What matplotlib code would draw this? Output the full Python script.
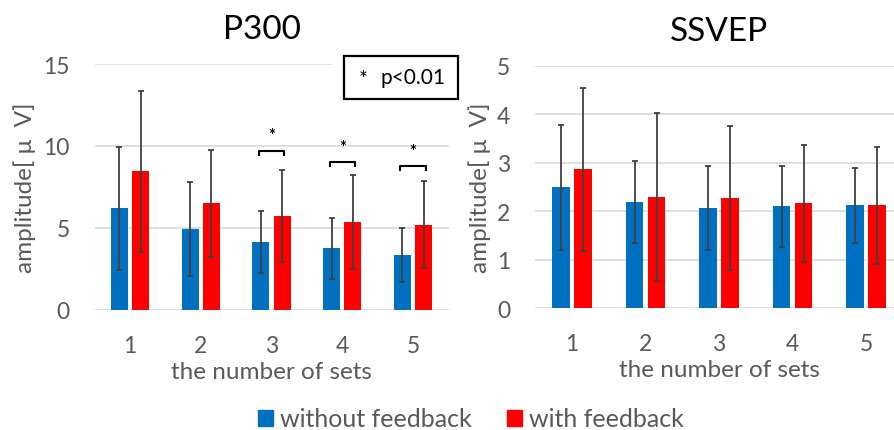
import matplotlib
matplotlib.use("Agg")
import matplotlib.pyplot as plt
import numpy as np
from matplotlib.patches import Rectangle, Patch

plt.rcParams['font.family'] = ['Lato', 'DejaVu Sans']

categories = ["1", "2", "3", "4", "5"]
series_names = ["without feedback", "with feedback"]

p300_without = [6.2, 4.93, 4.15, 3.75, 3.36]
p300_without_err = [3.75, 2.85, 1.9, 1.85, 1.65]
p300_with = [8.45, 6.5, 5.7, 5.35, 5.19]
p300_with_err = [4.9, 3.27, 2.8, 2.85, 2.65]

ssvep_without = [2.49, 2.19, 2.07, 2.10, 2.12]
ssvep_without_err = [1.29, 0.84, 0.86, 0.83, 0.77]
ssvep_with = [2.87, 2.30, 2.27, 2.16, 2.12]
ssvep_with_err = [1.68, 1.73, 1.48, 1.2, 1.2]

sig_index = [2, 3, 4]
sig_bracket_y = [9.7, 9.0, 8.75]

p300_ticks = [0, 5, 10, 15]
ssvep_ticks = [0, 1, 2, 3, 4, 5]

BLUE = "#0070C0"
RED = "#FF0000"
GRID = "#D9D9D9"
TXT = "#595959"
ERR = "#404040"

W, H = 894, 431
fig = plt.figure(figsize=(W / 100, H / 100), dpi=100)


def px_axes(x0, x1, ytop, ybot):
    return fig.add_axes([x0 / W, 1 - ybot / H, (x1 - x0) / W, (ybot - ytop) / H])


ax1 = px_axes(94.6, 448.5, 65.0, 310.7)
ax2 = px_axes(535.3, 902.8, 66.7, 309.3)

bw = 0.24
off = 0.15


def draw(ax, a, a_err, b, b_err, ticks, title, title_xy, ylab_x):
    x = np.arange(len(categories))
    ax.bar(x - off, a, bw, color=BLUE, zorder=2)
    ax.bar(x + off, b, bw, color=RED, zorder=2)
    ek = dict(fmt='none', ecolor=ERR, elinewidth=1.3, capsize=2.5, capthick=1.3, zorder=3)
    ax.errorbar(x - off, a, yerr=a_err, **ek)
    ax.errorbar(x + off, b, yerr=b_err, **ek)
    ax.set_xlim(-0.5, len(categories) - 0.5)
    ax.set_ylim(ticks[0], ticks[-1])
    ax.set_yticks(ticks)
    ax.set_xticks(x)
    ax.set_xticklabels(categories)
    for s in ax.spines.values():
        s.set_visible(False)
    ax.yaxis.grid(True, color=GRID, lw=1.2, zorder=0)
    ax.set_axisbelow(True)
    ax.tick_params(axis='both', length=0, labelsize=16.5, labelcolor=TXT)
    ax.tick_params(axis='y', pad=18)
    ax.tick_params(axis='x', pad=18)
    ax.text(0.5, -0.252, "the number of sets", transform=ax.transAxes,
            ha='center', va='center', fontsize=17.5, color=TXT)
    ax.text(ylab_x, 0.5, "amplitude[ μ  V]", transform=ax.transAxes, rotation=90,
            ha='center', va='center', fontsize=17.5, color=TXT)
    fig.text(title_xy[0] / W, 1 - title_xy[1] / H, title, ha='center', va='center',
             fontsize=24, color='black')


draw(ax1, p300_without, p300_without_err, p300_with, p300_with_err, p300_ticks,
     "P300", (262, 30), -0.197)
draw(ax2, ssvep_without, ssvep_without_err, ssvep_with, ssvep_with_err, ssvep_ticks,
     "SSVEP", (719, 32), -0.15)

# significance brackets
for i, yb in zip(sig_index, sig_bracket_y):
    x0, x1 = i - off - 0.03, i + off + 0.03
    drop = 0.3
    ax1.plot([x0, x0, x1, x1], [yb - drop, yb, yb, yb - drop], color='black', lw=1.5,
             zorder=4, solid_capstyle='butt')
    ax1.text(i, yb + 0.45, "*", ha='center', va='bottom', fontsize=12, color='black',
             fontweight='bold', zorder=4)

# p<0.01 box (white mask covering gridline, then bordered box)
fig.patches.append(Rectangle((332 / W, 1 - 108 / H), (470 - 332) / W, (108 - 50) / H,
                             transform=fig.transFigure, facecolor='white',
                             edgecolor='none', zorder=5))
fig.patches.append(Rectangle((344 / W, 1 - 100 / H), (458 - 344) / W, (100 - 57) / H,
                             transform=fig.transFigure, facecolor='white',
                             edgecolor='black', lw=1.6, zorder=6))
fig.text(363 / W, 1 - 80 / H, "*", ha='center', va='center', fontsize=15, color='black',
         zorder=7)
fig.text(413.5 / W, 1 - 78 / H, "p<0.01", ha='center', va='center', fontsize=15,
         color='black', zorder=7)

handles = [Patch(color=BLUE), Patch(color=RED)]
fig.legend(handles, series_names, loc='center', bbox_to_anchor=(471 / W, 1 - 420 / H),
           ncol=2, frameon=False, fontsize=18, handlelength=0.6, handleheight=0.6,
           handletextpad=0.3, columnspacing=1.4, labelcolor=TXT)

fig.savefig("out.png", dpi=100)
